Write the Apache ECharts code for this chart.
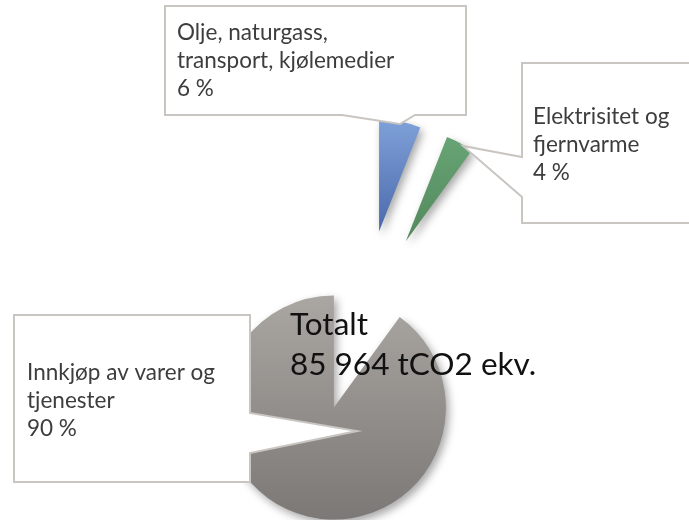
<!DOCTYPE html>
<html>
<head>
<meta charset="utf-8">
<script src="https://cdn.jsdelivr.net/npm/echarts@6/dist/echarts.min.js"></script>
<style>
html,body{margin:0;padding:0;background:#fff;}
#chart{width:689px;height:520px;}
</style>
</head>
<body>
<div id="chart"></div>
<script>
// ---- data ----
const categories = ['Olje, naturgass, transport, kjølemedier', 'Elektrisitet og fjernvarme', 'Innkjøp av varer og tjenester'];
const labelTexts = ['Olje, naturgass,\ntransport, kjølemedier', 'Elektrisitet og\nfjernvarme', 'Innkjøp av varer og\ntjenester'];
const shares = [6, 4, 90];
const totalTitle = 'Totalt';
const totalValue = '85 964 tCO2 ekv.';

// ---- styles / layout ----
const sliceColors = [
  ['#7FA1D8', '#4A69AC'],
  ['#67A474', '#53885D'],
  ['#AAA7A3', '#7B7875']
];
const calloutShapes = [
  [[165,6],[466,6],[466,115],[415,115],[400,124],[342,115],[165,115]],
  [[522,63],[700,63],[700,223],[522,223],[522,197],[463,146],[522,157]],
  [[14,315],[250,315],[250,413],[357,431],[250,453],[250,482],[14,482]]
];
const labelAnchors = [[177,61],[533,145],[27,401]];

function grad(c){
  return new echarts.graphic.LinearGradient(0,0,0,1,[{offset:0,color:c[0]},{offset:1,color:c[1]}]);
}

const chart = echarts.init(document.getElementById('chart'), null, {renderer:'canvas'});

const pieData = categories.map((name,i)=>({
  name: name,
  value: shares[i],
  selected: true,
  itemStyle: {color: grad(sliceColors[i])},
  select: {itemStyle: {color: grad(sliceColors[i]), borderWidth: 0}}
}));

const graphics = [];
calloutShapes.forEach((pts,i)=>{
  graphics.push({
    type:'polygon', z: 10,
    shape:{points: pts},
    style:{fill:'#ffffff', stroke:'#C9C5C1', lineWidth:2}
  });
  graphics.push({
    type:'text', z: 11,
    x: labelAnchors[i][0], y: labelAnchors[i][1],
    style:{
      text: labelTexts[i] + '\n' + shares[i] + ' %',
      font: '22.5px Lato',
      fill: '#3d3d3d',
      lineHeight: 28,
      align: 'left',
      verticalAlign: 'middle'
    }
  });
});

chart.setOption({
  animation: false,
  backgroundColor: '#ffffff',
  title: {
    text: totalTitle + '\n' + totalValue,
    left: 290, top: 305, padding: 0, z: 12,
    textStyle: {fontFamily: 'Lato', fontSize: 31.5, fontWeight: 'normal', color: '#111111', lineHeight: 40}
  },
  series: [{
    type: 'pie',
    center: [362, 321],
    radius: 112,
    startAngle: 90,
    clockwise: true,
    selectedMode: 'multiple',
    selectedOffset: 91,
    label: {show: false},
    labelLine: {show: false},
    emphasis: {disabled: true},
    itemStyle: {
      borderWidth: 0,
      shadowBlur: 9, shadowOffsetX: 3, shadowOffsetY: 4, shadowColor: 'rgba(0,0,0,0.35)'
    },
    data: pieData
  }],
  graphic: graphics
});
</script>
</body>
</html>
